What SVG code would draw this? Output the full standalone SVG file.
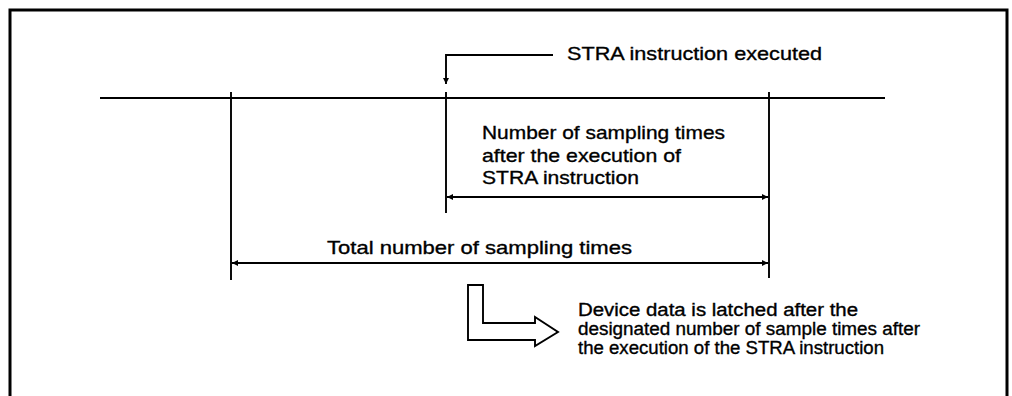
<svg xmlns="http://www.w3.org/2000/svg" width="1012" height="396" viewBox="0 0 1012 396">
<style>
.ln{stroke:#000;stroke-width:1.9;fill:none}
.t{font-family:"Liberation Sans",Arial,sans-serif;font-size:19px;fill:#000;stroke:#000;stroke-width:0.35}
.s{font-family:"Liberation Sans",Arial,sans-serif;font-size:18px;fill:#000;stroke:#000;stroke-width:0.35}
</style>
<defs>
<marker id="ah" viewBox="0 0 10 10" refX="10" refY="5" markerWidth="7" markerHeight="6" markerUnits="userSpaceOnUse" orient="auto-start-reverse">
<path d="M0,0 L10,5 L0,10 Z" fill="#000"/>
</marker>
</defs>
<rect width="1012" height="396" fill="#fff"/>
<path d="M10,400 V10 H1007 V400" stroke="#000" stroke-width="3" fill="none"/>
<g id="timeline">
<line class="ln" x1="100" y1="98" x2="885" y2="98"/>
</g>
<g id="connectors">
<line class="ln" x1="231" y1="92" x2="231" y2="280"/>
<line class="ln" x1="446" y1="92" x2="446" y2="213"/>
<line class="ln" x1="769" y1="92" x2="769" y2="278"/>
<polyline class="ln" points="553,55 446,55 446,84" marker-end="url(#ah)"/>
<line class="ln" x1="447" y1="197" x2="768" y2="197" marker-start="url(#ah)" marker-end="url(#ah)"/>
<line class="ln" x1="232" y1="263" x2="768" y2="263" marker-start="url(#ah)" marker-end="url(#ah)"/>
</g>
<g id="label-executed">
<text class="t" x="567" y="60" textLength="255" lengthAdjust="spacingAndGlyphs">STRA instruction executed</text>
</g>
<g id="label-after">
<text class="t" x="482" y="139" textLength="243" lengthAdjust="spacingAndGlyphs">Number of sampling times</text>
<text class="t" x="482" y="162" textLength="199" lengthAdjust="spacingAndGlyphs">after the execution of</text>
<text class="t" x="482" y="184" textLength="157" lengthAdjust="spacingAndGlyphs">STRA instruction</text>
</g>
<g id="label-total">
<text class="t" x="327" y="254" textLength="305" lengthAdjust="spacingAndGlyphs">Total number of sampling times</text>
</g>
<g id="hollow-arrow">
<path d="M468,285 H483 V323 H535 V317 L558,332 L535,346 V340 H468 Z" fill="#fff" stroke="#000" stroke-width="1.9" stroke-linejoin="miter"/>
</g>
<g id="label-device">
<text class="s" x="578" y="316" textLength="280" lengthAdjust="spacingAndGlyphs">Device data is latched after the</text>
<text class="s" x="578" y="335" textLength="342" lengthAdjust="spacingAndGlyphs">designated number of sample times after</text>
<text class="s" x="578" y="354" textLength="306" lengthAdjust="spacingAndGlyphs">the execution of the STRA instruction</text>
</g>
</svg>
